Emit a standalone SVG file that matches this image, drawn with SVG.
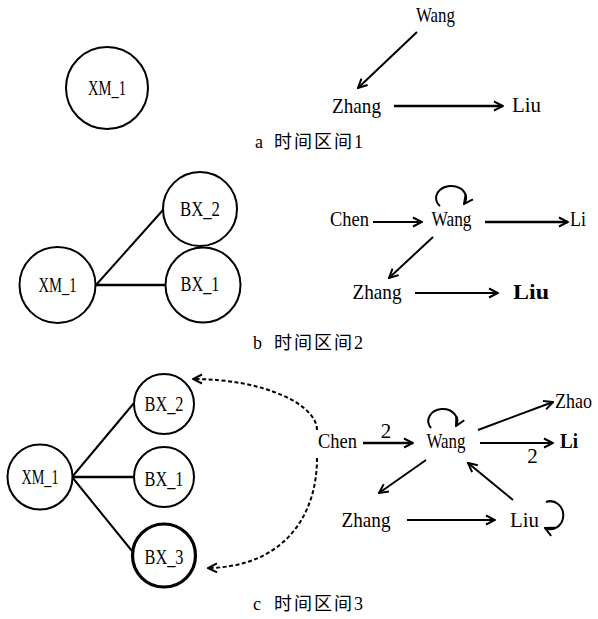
<svg xmlns="http://www.w3.org/2000/svg" width="598" height="619" viewBox="0 0 598 619">
<style>
.bg{fill:#fff}
.node circle{fill:#fff;stroke:#000;stroke-width:2}
.node circle.thick{stroke-width:3.2}
.t{font-family:'Liberation Serif',serif;font-size:21px;fill:#000}
.cj{font-family:'Liberation Serif','Noto Sans CJK SC',serif;font-size:18px;fill:#000}
.c{text-anchor:middle}
.edge{stroke:#000;stroke-width:2;fill:none}
.arr{stroke:#000;stroke-width:2;fill:none;marker-end:url(#ah)}
.dash{stroke:#000;stroke-width:2;fill:none;stroke-dasharray:4 2.5;marker-end:url(#ah)}
.w{stroke-width:2.6}
</style>
<defs>
<marker id="ah" viewBox="0 0 12 12" refX="11" refY="6" markerWidth="12" markerHeight="12" markerUnits="userSpaceOnUse" orient="auto">
<path d="M2,1.5 L11,6 L2,10.5" fill="none" stroke="#000" stroke-width="2"/>
</marker>
</defs>
<rect class="bg" x="0" y="0" width="598" height="619"/>

<g id="connectors">
<line class="arr" x1="417" y1="32" x2="358" y2="88"/>
<line class="arr w" x1="394" y1="106" x2="503" y2="106"/>
<line class="edge" x1="96" y1="285" x2="163" y2="210"/>
<line class="edge w" x1="96" y1="285" x2="165" y2="285"/>
<line class="arr" x1="373" y1="222" x2="422" y2="222"/>
<line class="arr w" x1="485" y1="222" x2="568" y2="222"/>
<line class="arr" x1="433" y1="237" x2="389" y2="278"/>
<line class="arr" x1="415" y1="293" x2="498" y2="293"/>
<path class="arr" d="M440,206 A15,12 0 1 1 464,204"/>
<line class="edge" x1="72" y1="477" x2="134" y2="403"/>
<line class="edge w" x1="72" y1="477" x2="134" y2="477"/>
<line class="edge" x1="72" y1="477" x2="132" y2="551"/>
<path class="dash" d="M317,430 C317,405 265,379 193,379"/>
<path class="dash" d="M317,458 C317,520 280,567 208,568"/>
<line class="arr w" x1="363" y1="443" x2="413" y2="443"/>
<line class="arr" x1="478" y1="430" x2="553" y2="402"/>
<line class="arr" x1="480" y1="443" x2="553" y2="443"/>
<line class="arr" x1="426" y1="460" x2="379" y2="493"/>
<line class="arr" x1="513" y1="500" x2="468" y2="463"/>
<line class="arr" x1="407" y1="520" x2="495" y2="520"/>
<path class="arr" d="M431,428 A14.5,12 0 1 1 456,426"/>
<path class="arr" d="M546,502 A13,14 0 1 1 545,528"/>
</g>

<g id="a-XM_1" class="node"><circle cx="107" cy="88" r="41"/><text class="t c" x="107" y="94.5" textLength="38" lengthAdjust="spacingAndGlyphs">XM_1</text></g>
<g id="a-Wang"><text class="t c" x="435.5" y="22" textLength="39" lengthAdjust="spacingAndGlyphs">Wang</text></g>
<g id="a-Zhang"><text class="t c" x="356.5" y="113" textLength="49" lengthAdjust="spacingAndGlyphs">Zhang</text></g>
<g id="a-Liu"><text class="t c" x="526.5" y="112" textLength="29" lengthAdjust="spacingAndGlyphs">Liu</text></g>
<g id="cap-a"><text class="cj" x="255" y="148">a</text><text class="cj" x="274" y="148" letter-spacing="2">时间区间1</text></g>

<g id="b-XM_1" class="node"><circle cx="57.5" cy="285" r="38"/><text class="t c" x="57.5" y="291.5" textLength="38" lengthAdjust="spacingAndGlyphs">XM_1</text></g>
<g id="b-BX_2" class="node"><circle cx="200" cy="209" r="37"/><text class="t c" x="200" y="216" textLength="40" lengthAdjust="spacingAndGlyphs">BX_2</text></g>
<g id="b-BX_1" class="node"><circle cx="203" cy="285" r="37.5"/><text class="t c" x="200" y="291" textLength="39" lengthAdjust="spacingAndGlyphs">BX_1</text></g>
<g id="b-Chen"><text class="t c" x="349.5" y="226" textLength="39" lengthAdjust="spacingAndGlyphs">Chen</text></g>
<g id="b-Wang"><text class="t c" x="451.5" y="226" textLength="40" lengthAdjust="spacingAndGlyphs">Wang</text></g>
<g id="b-Li"><text class="t" x="570" y="226" textLength="16" lengthAdjust="spacingAndGlyphs">Li</text></g>
<g id="b-Zhang"><text class="t c" x="377" y="299" textLength="49" lengthAdjust="spacingAndGlyphs">Zhang</text></g>
<g id="b-Liu"><text class="t c" x="531" y="299" font-weight="bold" textLength="36" lengthAdjust="spacingAndGlyphs">Liu</text></g>
<g id="cap-b"><text class="cj" x="253" y="349">b</text><text class="cj" x="274" y="349" letter-spacing="2">时间区间2</text></g>

<g id="c-XM_1" class="node"><circle cx="40" cy="477" r="32.5"/><text class="t c" x="40" y="484" textLength="37" lengthAdjust="spacingAndGlyphs">XM_1</text></g>
<g id="c-BX_2" class="node"><circle cx="164" cy="404" r="30"/><text class="t c" x="164" y="410.5" textLength="39" lengthAdjust="spacingAndGlyphs">BX_2</text></g>
<g id="c-BX_1" class="node"><circle cx="164" cy="477" r="30"/><text class="t c" x="164" y="486" textLength="39" lengthAdjust="spacingAndGlyphs">BX_1</text></g>
<g id="c-BX_3" class="node"><circle class="thick" cx="164" cy="555.5" r="31.5"/><text class="t c" x="164" y="563.5" textLength="39" lengthAdjust="spacingAndGlyphs">BX_3</text></g>
<g id="c-Chen"><text class="t c" x="337.5" y="448" textLength="39" lengthAdjust="spacingAndGlyphs">Chen</text></g>
<g id="c-Wang"><text class="t c" x="446" y="448" textLength="39" lengthAdjust="spacingAndGlyphs">Wang</text></g>
<g id="c-Zhao"><text class="t" x="555" y="408" textLength="37" lengthAdjust="spacingAndGlyphs">Zhao</text></g>
<g id="c-Li"><text class="t" x="560" y="448" font-weight="bold" textLength="18" lengthAdjust="spacingAndGlyphs">Li</text></g>
<g id="c-Zhang"><text class="t c" x="366" y="527" textLength="49" lengthAdjust="spacingAndGlyphs">Zhang</text></g>
<g id="c-Liu"><text class="t c" x="524.5" y="527" textLength="29" lengthAdjust="spacingAndGlyphs">Liu</text></g>
<g id="c-label1"><text class="t c" x="386" y="438">2</text></g>
<g id="c-label2"><text class="t c" x="532.5" y="463">2</text></g>
<g id="cap-c"><text class="cj" x="253" y="610">c</text><text class="cj" x="274" y="610" letter-spacing="2">时间区间3</text></g>
</svg>
